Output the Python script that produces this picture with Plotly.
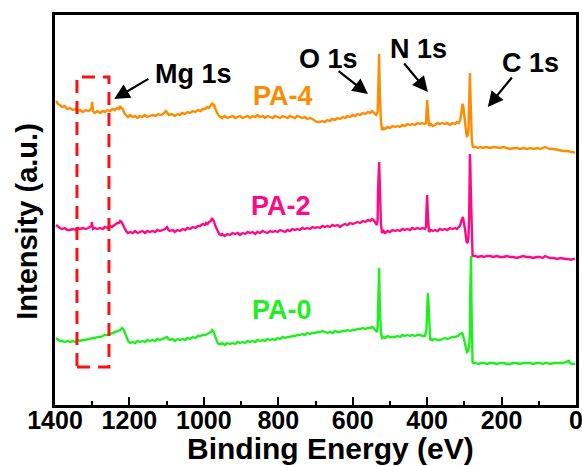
import plotly.graph_objects as go

# ---------------- data: (binding energy eV, intensity a.u.) ----------------
pa4_points = [
    (1397, 304), (1392, 301), (1387, 300), (1380, 298), (1374, 299), (1367, 296), (1360, 297), (1352, 295),
    (1345, 296), (1338, 294), (1333, 295), (1325, 293), (1317, 295), (1311, 294), (1306, 295), (1302, 297),
    (1300, 303), (1298, 294), (1293, 292), (1286, 294), (1279, 292), (1272, 294), (1266, 293), (1259, 295),
    (1252, 294), (1246, 296), (1239, 295), (1233, 297), (1228, 296), (1225, 299), (1222, 297), (1218, 296),
    (1212, 291), (1204, 288), (1198, 290), (1191, 288), (1185, 289), (1178, 287), (1172, 289), (1166, 288),
    (1159, 290), (1152, 288), (1145, 289), (1138, 290), (1130, 289), (1123, 291), (1116, 290), (1110, 291),
    (1102, 294), (1097, 291), (1094, 290), (1086, 291), (1078, 289), (1070, 291), (1064, 290), (1059, 292),
    (1051, 291), (1044, 293), (1037, 292), (1030, 294), (1023, 293), (1016, 295), (1009, 294), (1003, 296),
    (997, 296), (991, 298), (986, 297), (981, 300), (978, 302), (975, 300), (973, 301), (970, 297),
    (967, 294), (963, 291), (959, 289), (951, 287), (944, 289), (937, 287), (930, 288), (922, 289),
    (916, 287), (909, 288), (903, 289), (896, 287), (889, 288), (882, 289), (876, 287), (869, 289),
    (862, 288), (856, 290), (849, 288), (842, 289), (836, 287), (829, 289), (822, 288), (815, 287),
    (809, 289), (802, 288), (795, 287), (788, 289), (782, 288), (775, 287), (769, 289), (762, 288),
    (755, 287), (749, 289), (742, 288), (735, 287), (729, 288), (722, 286), (715, 287), (708, 286),
    (701, 284), (695, 283), (688, 283), (681, 284), (675, 283), (668, 285), (661, 284), (656, 286),
    (648, 285), (641, 287), (634, 286), (627, 288), (620, 287), (614, 289), (607, 288), (600, 290),
    (594, 289), (587, 291), (580, 290), (573, 292), (566, 291), (559, 293), (553, 292), (548, 294),
    (543, 292), (537, 290), (533, 293), (531, 325), (529, 351), (527, 310), (524, 283), (521, 275),
    (517, 277), (513, 276), (506, 278), (500, 277), (493, 279), (486, 278), (480, 279), (473, 278),
    (466, 280), (460, 279), (453, 281), (446, 280), (440, 281), (433, 280), (426, 282), (419, 281),
    (414, 282), (407, 281), (403, 282), (400, 305), (398, 295), (395, 279), (390, 281), (385, 279),
    (379, 280), (372, 282), (366, 281), (359, 282), (352, 281), (346, 282), (339, 280), (332, 282),
    (325, 281), (320, 283), (315, 282), (311, 285), (309, 290), (307, 296), (305, 301), (303, 299),
    (301, 290), (298, 280), (295, 272), (293, 268), (291, 270), (289, 275), (287, 300), (286, 315),
    (285, 332), (284, 315), (283, 295), (281, 275), (280, 265), (278, 260), (277, 258), (270, 258),
    (263, 257), (258, 258), (250, 257), (242, 258), (231, 257), (220, 258), (210, 257), (204, 257),
    (195, 258), (185, 257), (177, 256), (167, 257), (158, 257), (151, 256), (140, 257), (131, 256),
    (124, 257), (113, 256), (104, 257), (97, 256), (90, 257), (83, 258), (77, 257), (70, 256),
    (60, 256), (50, 255), (43, 255), (34, 254), (27, 254), (21, 254), (14, 253), (8, 253), (3, 252)]

pa2_points = [
    (1397, 180), (1392, 178), (1387, 177), (1381, 176), (1374, 177), (1367, 175), (1360, 175), (1352, 176),
    (1345, 175), (1338, 177), (1333, 176), (1325, 177), (1318, 176), (1311, 177), (1306, 178), (1302, 179),
    (1301, 183), (1298, 176), (1293, 177), (1286, 176), (1279, 177), (1272, 176), (1266, 178), (1259, 177),
    (1252, 179), (1247, 178), (1240, 180), (1233, 182), (1228, 182), (1225, 184), (1221, 183), (1217, 180),
    (1213, 177), (1209, 174), (1204, 172), (1198, 173), (1191, 172), (1185, 174), (1178, 172), (1172, 173),
    (1165, 174), (1158, 172), (1152, 174), (1145, 173), (1138, 174), (1131, 173), (1125, 175), (1118, 174),
    (1111, 175), (1104, 176), (1099, 178), (1095, 175), (1091, 174), (1084, 175), (1078, 173), (1071, 175),
    (1064, 174), (1057, 176), (1050, 175), (1044, 177), (1037, 176), (1030, 178), (1023, 177), (1016, 179),
    (1010, 179), (1003, 181), (997, 180), (994, 182), (990, 181), (986, 183), (981, 184), (978, 187),
    (975, 185), (973, 184), (970, 180), (967, 177), (963, 173), (959, 171), (955, 170), (951, 171),
    (944, 169), (937, 171), (930, 170), (923, 172), (916, 171), (909, 172), (903, 170), (896, 172),
    (889, 171), (882, 173), (876, 172), (869, 173), (862, 171), (856, 173), (849, 172), (842, 174),
    (836, 173), (829, 172), (822, 174), (815, 173), (809, 174), (802, 173), (795, 175), (788, 174),
    (782, 173), (775, 175), (769, 174), (762, 176), (755, 175), (749, 176), (742, 175), (735, 177),
    (729, 176), (722, 177), (715, 176), (708, 178), (701, 177), (695, 178), (688, 177), (681, 179),
    (675, 178), (668, 179), (661, 178), (654, 180), (648, 179), (641, 180), (634, 178), (627, 180),
    (620, 181), (614, 180), (607, 182), (600, 181), (594, 182), (587, 183), (580, 182), (573, 184),
    (566, 183), (559, 185), (553, 184), (548, 186), (544, 185), (540, 183), (537, 181), (535, 180),
    (533, 185), (532, 215), (529, 243), (527, 205), (524, 180), (521, 172), (517, 174), (513, 172),
    (506, 174), (500, 173), (493, 175), (486, 174), (480, 175), (473, 174), (466, 176), (460, 175),
    (453, 176), (446, 175), (440, 177), (433, 176), (426, 177), (419, 176), (412, 177), (406, 176),
    (403, 178), (402, 193), (400, 210), (398, 190), (395, 173), (390, 175), (385, 174), (379, 175),
    (372, 174), (366, 176), (359, 175), (352, 176), (346, 175), (339, 177), (332, 176), (325, 177),
    (320, 176), (315, 178), (312, 179), (309, 183), (306, 186), (304, 188), (302, 184), (300, 180),
    (298, 175), (295, 166), (293, 162), (291, 163), (289, 168), (287, 190), (286, 215), (285, 251),
    (284, 240), (283, 220), (282, 200), (281, 170), (280, 155), (278, 150), (277, 149), (270, 149),
    (263, 148), (255, 149), (247, 148), (240, 149), (231, 149), (222, 148), (213, 149), (204, 148),
    (195, 148), (186, 149), (177, 148), (168, 148), (159, 147), (151, 148), (142, 149), (133, 148),
    (124, 148), (115, 147), (106, 148), (97, 148), (90, 147), (83, 149), (77, 148), (70, 147),
    (60, 147), (50, 146), (43, 147), (34, 146), (27, 146), (20, 146), (14, 145), (8, 146), (3, 146)]

pa0_points = [
    (1397, 67), (1392, 65), (1387, 64), (1381, 64), (1374, 63), (1367, 64), (1360, 63), (1352, 64),
    (1345, 63), (1338, 65), (1333, 64), (1325, 65), (1318, 65), (1311, 66), (1306, 66), (1299, 67),
    (1293, 67), (1286, 68), (1279, 68), (1272, 69), (1266, 70), (1259, 70), (1252, 71), (1245, 72),
    (1240, 72), (1236, 73), (1230, 74), (1225, 75), (1222, 76), (1220, 77), (1217, 76), (1215, 75),
    (1211, 71), (1207, 67), (1202, 63), (1198, 62), (1191, 63), (1185, 62), (1178, 64), (1172, 63),
    (1165, 64), (1158, 63), (1152, 65), (1145, 64), (1138, 65), (1131, 64), (1125, 66), (1118, 65),
    (1111, 66), (1104, 67), (1099, 68), (1095, 66), (1091, 65), (1084, 66), (1078, 64), (1071, 66),
    (1064, 65), (1057, 66), (1050, 65), (1044, 67), (1037, 66), (1030, 68), (1023, 67), (1016, 69),
    (1010, 69), (1003, 70), (997, 70), (991, 71), (986, 72), (981, 73), (978, 75), (975, 73),
    (973, 73), (970, 69), (967, 66), (963, 62), (959, 61), (955, 61), (951, 62), (944, 60),
    (937, 62), (930, 61), (923, 62), (916, 61), (909, 63), (903, 62), (896, 63), (889, 62),
    (882, 64), (876, 63), (869, 64), (862, 63), (856, 65), (849, 64), (842, 65), (836, 64),
    (829, 66), (822, 65), (815, 66), (809, 65), (802, 67), (795, 66), (788, 68), (782, 67),
    (775, 68), (769, 68), (762, 69), (755, 69), (749, 70), (742, 70), (735, 71), (729, 70),
    (722, 72), (715, 71), (708, 72), (701, 72), (695, 73), (688, 73), (681, 74), (675, 73),
    (668, 72), (661, 73), (654, 72), (648, 74), (641, 73), (634, 73), (627, 74), (620, 74),
    (614, 75), (607, 74), (600, 75), (594, 75), (587, 76), (580, 76), (573, 77), (566, 76),
    (559, 77), (553, 77), (548, 78), (544, 77), (540, 75), (537, 74), (535, 73), (533, 78),
    (532, 105), (529, 137), (527, 95), (524, 72), (521, 67), (517, 68), (513, 67), (506, 69),
    (500, 68), (493, 68), (486, 68), (480, 69), (473, 68), (466, 70), (460, 69), (453, 70),
    (446, 69), (440, 70), (433, 69), (426, 70), (419, 70), (412, 69), (406, 69), (402, 75),
    (400, 95), (398, 112), (396, 100), (395, 90), (392, 65), (388, 66), (385, 65), (379, 66),
    (372, 65), (366, 65), (359, 66), (352, 67), (346, 66), (339, 67), (332, 68), (325, 68),
    (320, 69), (317, 69), (312, 71), (309, 72), (306, 72), (303, 69), (301, 65), (298, 60),
    (295, 55), (293, 53), (290, 54), (288, 57), (286, 65), (285, 75), (284, 115), (283, 140),
    (282, 149), (281, 105), (280, 50), (278, 43), (277, 42), (270, 42), (263, 41), (255, 42),
    (247, 42), (240, 41), (231, 42), (222, 42), (213, 41), (204, 42), (195, 42), (186, 41),
    (177, 41), (168, 42), (159, 42), (151, 41), (142, 42), (133, 42), (124, 42), (115, 41),
    (106, 42), (97, 42), (90, 41), (83, 42), (77, 42), (70, 41), (60, 42), (50, 42),
    (43, 42), (34, 42), (27, 43), (22, 44), (19, 44), (16, 42), (10, 41), (3, 41)]

x_ticks = [1400, 1200, 1000, 800, 600, 400, 200, 0]

series_names = ["PA-4", "PA-2", "PA-0"]
series_colors = ["#FF8C00", "#FF0A85", "#1EF01E"]
label_pos = [(787, 309), (793, 199), (790, 95)]

peak_labels = ["Mg 1s", "O 1s", "N 1s", "C 1s"]
peak_label_pos = [(1029, 331), (664, 346), (422, 356), (121, 342)]
# arrows: (tail_E, tail_I, head_E, head_I)
peak_arrows = [(1145, 327, 1241, 306), (642, 335, 559, 311), (465, 343, 398, 313), (169, 329, 237, 298)]

mg_box = dict(e_high=1341, e_low=1255, i_low=38, i_high=328)

# ---------------- figure ----------------
FONT = "Arial, 'Liberation Sans', sans-serif"
fig = go.Figure()
for name, pts, c in zip(series_names, [pa4_points, pa2_points, pa0_points], series_colors):
    e, v = zip(*pts)
    fig.add_trace(go.Scatter(x=list(e), y=list(v), mode="lines", name=name,
                             line=dict(color=c, width=2.4), showlegend=False))

for name, c, (lx, ly) in zip(series_names, series_colors, label_pos):
    fig.add_annotation(x=lx, y=ly, text=f"<b>{name}</b>", showarrow=False,
                       xanchor="center", yanchor="middle",
                       font=dict(family=FONT, size=27, color=c))

for t, (px, py) in zip(peak_labels, peak_label_pos):
    fig.add_annotation(x=px, y=py, text=f"<b>{t}</b>", showarrow=False,
                       xanchor="center", yanchor="middle",
                       font=dict(family=FONT, size=27, color="black"))

for tx, ty, hx, hy in peak_arrows:
    fig.add_annotation(x=hx, y=hy, ax=tx, ay=ty, xref="x", yref="y", axref="x", ayref="y",
                       text="", showarrow=True, arrowhead=2, arrowsize=1.4, arrowwidth=2.2,
                       arrowcolor="black")

fig.add_shape(type="rect", x0=mg_box["e_high"], x1=mg_box["e_low"],
              y0=mg_box["i_low"], y1=mg_box["i_high"], xref="x", yref="y",
              line=dict(color="#FF1010", width=3, dash="13px,8px"))

# axis titles
fig.add_annotation(xref="paper", yref="paper", x=0.528, y=-0.112, xanchor="center", yanchor="middle",
                   text="<b>Binding Energy (eV)</b>", showarrow=False,
                   font=dict(family=FONT, size=30, color="black"))
fig.add_annotation(xref="paper", yref="paper", x=-0.054, y=0.472, xanchor="center", yanchor="middle",
                   text="<b>Intensity (a.u.)</b>", textangle=-90, showarrow=False,
                   font=dict(family=FONT, size=29, color="black"))

fig.update_xaxes(range=[1400, 0], tickmode="array", tickvals=x_ticks,
                 ticktext=[f"<b>{t}</b>" for t in x_ticks], ticklabeloverflow="allow",
                 ticklabelstandoff=-9,
                 ticks="inside", ticklen=8, tickwidth=2, tickcolor="black",
                 minor=dict(tickmode="linear", tick0=0, dtick=100, ticks="inside", ticklen=4,
                            tickwidth=2, tickcolor="black"),
                 showline=True, linewidth=2.5, linecolor="black", mirror=True,
                 showgrid=False, zeroline=False,
                 tickfont=dict(family=FONT, size=25, color="black"))
fig.update_yaxes(range=[0, 390], showticklabels=False, ticks="",
                 showline=True, linewidth=2.5, linecolor="black", mirror=True,
                 showgrid=False, zeroline=False)

fig.update_layout(width=582, height=466, margin=dict(l=55, r=6, t=15, b=61, autoexpand=False),
                  plot_bgcolor="white", paper_bgcolor="white")

fig.write_html("out.html", config={"displayModeBar": False},
               post_script="document.body.style.margin='0px';document.body.style.overflow='hidden';")
